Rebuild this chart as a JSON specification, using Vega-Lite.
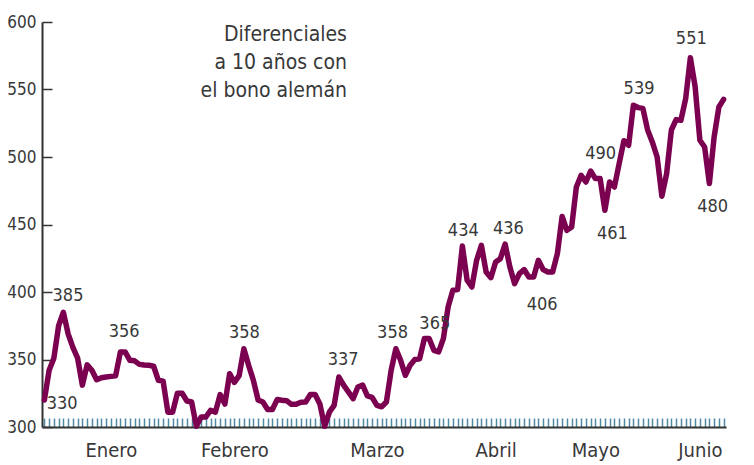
{
  "$schema": "https://vega.github.io/schema/vega-lite/v6.json",
  "width": 684,
  "height": 405,
  "autosize": "none",
  "padding": {"left": 42, "top": 22, "right": 28, "bottom": 38},
  "background": "white",
  "config": {
    "view": {"stroke": null},
    "axis": {"grid": false, "labelFont": "DejaVu Sans Condensed, sans-serif", "labelColor": "#383838"}
  },
  "datasets": {
    "serie": [
      {"t":0,"v":320},{"t":1,"v":342},{"t":2,"v":351},{"t":3,"v":375},{"t":4,"v":385},{"t":5,"v":369},{"t":6,"v":359},{"t":7,"v":351},{"t":8,"v":331},{"t":9,"v":346},
      {"t":10,"v":342},{"t":11,"v":335},{"t":12,"v":336.5},{"t":13,"v":337},{"t":14,"v":337.5},{"t":15,"v":338},{"t":16,"v":355.6},{"t":17,"v":355.6},{"t":18,"v":349.4},{"t":19,"v":349},
      {"t":20,"v":346.4},{"t":21,"v":346},{"t":22,"v":345.7},{"t":23,"v":345},{"t":24,"v":334.6},{"t":25,"v":334},{"t":26,"v":311},{"t":27,"v":311},{"t":28,"v":325},{"t":29,"v":325},
      {"t":30,"v":319.3},{"t":31,"v":318.5},{"t":32,"v":300.5},{"t":33,"v":307.4},{"t":34,"v":307.4},{"t":35,"v":312.4},{"t":36,"v":311},{"t":37,"v":324},{"t":38,"v":317},{"t":39,"v":339.5},
      {"t":40,"v":333},{"t":41,"v":338},{"t":42,"v":358},{"t":43,"v":345.7},{"t":44,"v":334.6},{"t":45,"v":320},{"t":46,"v":318.5},{"t":47,"v":313},{"t":48,"v":313},{"t":49,"v":320.3},
      {"t":50,"v":319.8},{"t":51,"v":319.5},{"t":52,"v":316.8},{"t":53,"v":316.8},{"t":54,"v":318.3},{"t":55,"v":318.5},{"t":56,"v":324},{"t":57,"v":324},{"t":58,"v":317},{"t":59,"v":300.5},
      {"t":60,"v":311},{"t":61,"v":316},{"t":62,"v":337},{"t":63,"v":331},{"t":64,"v":326},{"t":65,"v":321},{"t":66,"v":329.6},{"t":67,"v":331},{"t":68,"v":323},{"t":69,"v":322},
      {"t":70,"v":316},{"t":71,"v":315},{"t":72,"v":318.5},{"t":73,"v":342},{"t":74,"v":358},{"t":75,"v":349.4},{"t":76,"v":338.3},{"t":77,"v":345.7},{"t":78,"v":350},{"t":79,"v":350.6},
      {"t":80,"v":365.5},{"t":81,"v":365.5},{"t":82,"v":356.8},{"t":83,"v":355.6},{"t":84,"v":365.5},{"t":85,"v":389},{"t":86,"v":401.3},{"t":87,"v":401.8},{"t":88,"v":434},{"t":89,"v":408.7},
      {"t":90,"v":403.7},{"t":91,"v":423.5},{"t":92,"v":434.6},{"t":93,"v":414.8},{"t":94,"v":410.6},{"t":95,"v":422.2},{"t":96,"v":424.7},{"t":97,"v":435.5},{"t":98,"v":418.5},{"t":99,"v":406.2},
      {"t":100,"v":413.6},{"t":101,"v":416.6},{"t":102,"v":411.1},{"t":103,"v":411.1},{"t":104,"v":423.5},{"t":105,"v":416.6},{"t":106,"v":414.8},{"t":107,"v":414.8},{"t":108,"v":428.4},{"t":109,"v":456},
      {"t":110,"v":445.7},{"t":111,"v":448.1},{"t":112,"v":477.8},{"t":113,"v":486.4},{"t":114,"v":481.5},{"t":115,"v":489.6},{"t":116,"v":484},{"t":117,"v":484},{"t":118,"v":460.5},{"t":119,"v":481.5},
      {"t":120,"v":477.8},{"t":121,"v":495},{"t":122,"v":512},{"t":123,"v":508.7},{"t":124,"v":538.3},{"t":125,"v":536.6},{"t":126,"v":536},{"t":127,"v":520},{"t":128,"v":511},{"t":129,"v":500},
      {"t":130,"v":471},{"t":131,"v":487.7},{"t":132,"v":520},{"t":133,"v":527.7},{"t":134,"v":527.2},{"t":135,"v":543},{"t":136,"v":573.6},{"t":137,"v":552},{"t":138,"v":512.4},{"t":139,"v":507.4},
      {"t":140,"v":480.3},{"t":141,"v":514.8},{"t":142,"v":537},{"t":143,"v":542.7}
    ],
    "etiquetas": [
      {"t":3.75,"v":313.6,"label":"330"},
      {"t":4.97,"v":393.3,"label":"385"},
      {"t":16.8,"v":366.7,"label":"356"},
      {"t":42.1,"v":366.2,"label":"358"},
      {"t":62.9,"v":345.7,"label":"337"},
      {"t":73.3,"v":366.2,"label":"358"},
      {"t":82.2,"v":372.9,"label":"365"},
      {"t":88.2,"v":441.8,"label":"434"},
      {"t":97.7,"v":443.3,"label":"436"},
      {"t":104.8,"v":386.4,"label":"406"},
      {"t":117.1,"v":498.8,"label":"490"},
      {"t":119.6,"v":439.6,"label":"461"},
      {"t":125.2,"v":547,"label":"539"},
      {"t":136.2,"v":584,"label":"551"},
      {"t":140.7,"v":459.3,"label":"480"}
    ]
  },
  "layer": [
    {
      "data": {"name": "serie"},
      "mark": {"type": "line", "color": "#7b0050", "strokeWidth": 5.5, "strokeJoin": "round", "strokeCap": "round"},
      "encoding": {
        "x": {
          "field": "t", "type": "quantitative",
          "scale": {"domain": [-0.5, 143.5], "nice": false, "zero": false},
          "axis": {
            "title": null, "tickCount": 144, "tickSize": -9, "tickColor": "#4f8aa0", "tickWidth": 1.5,
            "domainColor": "#333333", "domainWidth": 2,
            "labelExpr": "datum.value==14?'Enero':datum.value==40?'Febrero':datum.value==70?'Marzo':datum.value==95?'Abril':datum.value==116?'Mayo':datum.value==138?'Junio':''",
            "labelOverlap": false, "labelFlush": false, "labelBound": false,
            "labelPadding": 22, "labelFontSize": 20
          }
        },
        "y": {
          "field": "v", "type": "quantitative",
          "scale": {"domain": [300, 600], "nice": false, "zero": false},
          "axis": {
            "title": null, "values": [300, 350, 400, 450, 500, 550, 600],
            "tickSize": -10, "tickColor": "#333333", "tickWidth": 1.5,
            "domainColor": "#333333", "domainWidth": 2,
            "labelPadding": 16, "labelFontSize": 17
          }
        }
      }
    },
    {
      "data": {"name": "etiquetas"},
      "mark": {"type": "text", "align": "center", "baseline": "alphabetic", "font": "DejaVu Sans Condensed, sans-serif", "fontSize": 18, "color": "#383838"},
      "encoding": {
        "x": {"field": "t", "type": "quantitative"},
        "y": {"field": "v", "type": "quantitative"},
        "text": {"field": "label"}
      }
    },
    {
      "data": {"values": [{"titulo": "Diferenciales a 10 años con el bono alemán"}]},
      "mark": {"type": "text", "align": "right", "baseline": "alphabetic", "font": "DejaVu Sans Condensed, sans-serif", "fontSize": 21, "color": "#383838", "lineHeight": 28, "text": ["Diferenciales", "a 10 años con", "el bono alemán"]},
      "encoding": {
        "x": {"datum": 63.7, "type": "quantitative"},
        "y": {"datum": 585.7, "type": "quantitative"}
      }
    }
  ]
}
